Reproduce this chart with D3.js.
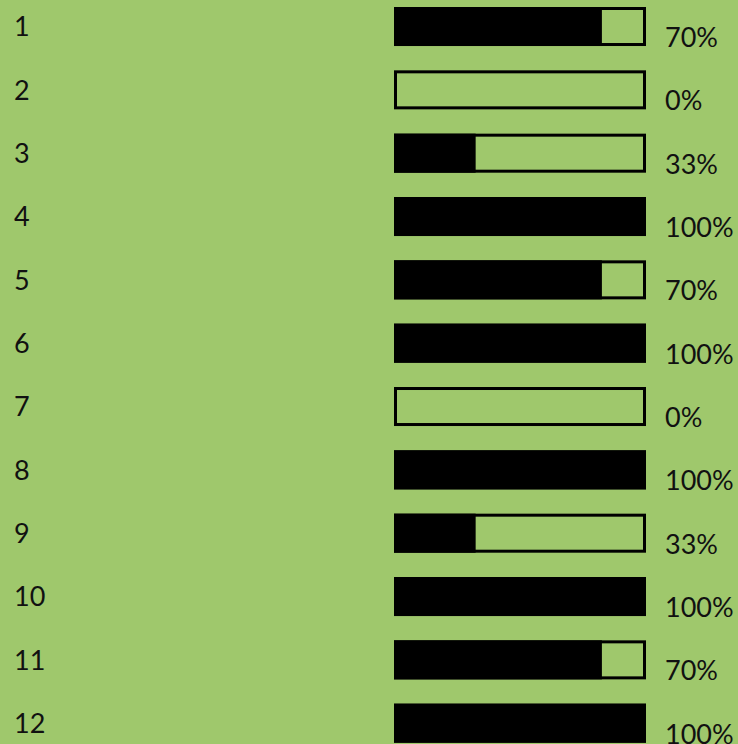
<!DOCTYPE html>
<html>
<head>
<meta charset="utf-8">
<script src="https://cdn.jsdelivr.net/npm/d3@7"></script>
<style>
  html, body { margin: 0; padding: 0; background: #9fc86c; }
  svg { display: block; }
</style>
</head>
<body>
<div id="chart"></div>
<script>
// rows, the share shown as text, and how far each bar is filled
var rows = ["1", "2", "3", "4", "5", "6", "7", "8", "9", "10", "11", "12"];
var labels = ["70%", "0%", "33%", "100%", "70%", "100%", "0%", "100%", "33%", "100%", "70%", "100%"];
var fills = [0.825, 0, 0.324, 1, 0.825, 1, 0, 1, 0.324, 1, 0.825, 1];

var width = 738, height = 744;

var svg = d3.select("#chart")
      .append("svg")
      .attr("width", width)
      .attr("height", height);

svg.append("rect")
      .attr("width", width)
      .attr("height", height)
      .attr("fill", "#9fc86c");

var y = d3.scaleBand()
      .domain(rows)
      .range([7, 742.7])
      .paddingInner(0.384)
      .paddingOuter(0);

var x = d3.scaleLinear()
      .domain([0, 1])
      .range([394, 646]);

var data = rows.map(function (r, i) {
      return { row: r, label: labels[i], fill: fills[i] };
});

var g = svg.selectAll(".row")
      .data(data)
      .enter()
      .append("g")
      .attr("class", "row");

// black fill part
g.append("rect")
      .attr("x", x(0))
      .attr("y", function (d) { return y(d.row); })
      .attr("width", function (d) { return x(d.fill) - x(0); })
      .attr("height", y.bandwidth())
      .attr("fill", "#000");

// outline
g.append("rect")
      .attr("x", x(0) + 1.5)
      .attr("y", function (d) { return y(d.row) + 1.5; })
      .attr("width", x(1) - x(0) - 3)
      .attr("height", y.bandwidth() - 3)
      .attr("fill", "none")
      .attr("stroke", "#000")
      .attr("stroke-width", 3);

// row numbers on the left
g.append("text")
      .attr("x", 14)
      .attr("y", function (d) { return y(d.row) + y.bandwidth() / 2; })
      .attr("dy", "0.36em")
      .attr("font-family", "Lato, 'Noto Sans', sans-serif")
      .attr("font-size", 27)
      .attr("fill", "#111")
      .text(function (d) { return d.row; });

// percent labels on the right
g.append("text")
      .attr("x", 665)
      .attr("y", function (d) { return y(d.row) + y.bandwidth() + 1; })
      .attr("font-family", "Lato, 'Noto Sans', sans-serif")
      .attr("font-size", 27)
      .attr("fill", "#111")
      .text(function (d) { return d.label; });
</script>
</body>
</html>
